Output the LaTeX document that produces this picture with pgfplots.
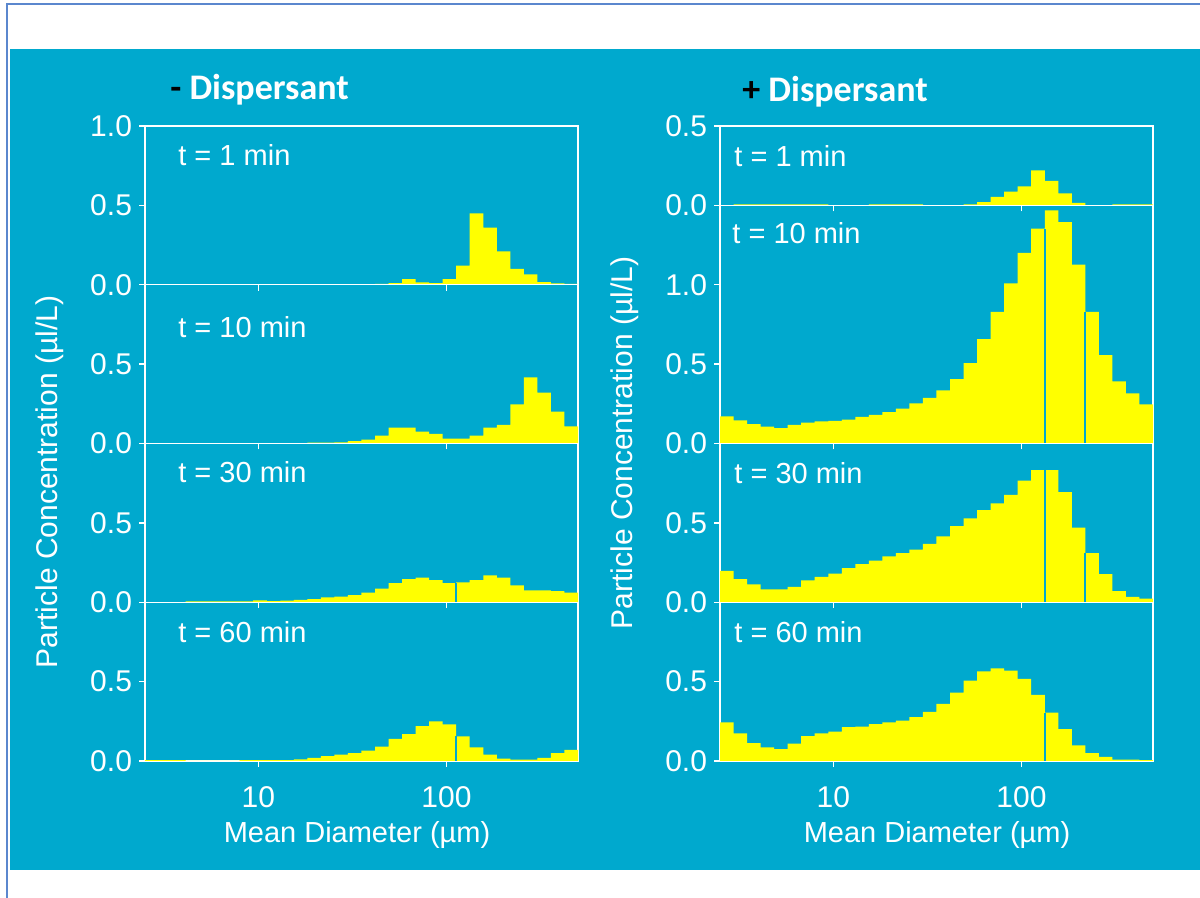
\documentclass[border=0pt]{standalone}
\usepackage{pgfplots}
\pgfplotsset{compat=1.18}
\usepackage{pgfplotstable}
\usepackage{fontspec}
\setmainfont{Liberation Sans}
\newfontfamily\titlefont{Carlito}
\definecolor{bg}{RGB}{0,169,206}
\definecolor{baryellow}{RGB}{255,255,0}
\definecolor{frameblue}{RGB}{91,135,206}

\pgfplotstableread{
x L1 L2 L3 L4 R1 R2 R3 R4
2.5 0 0 0 0.006 0 0.171 0.198 0.243
2.950 0 0 0 0.006 0.006 0.145 0.145 0.174
3.481 0 0 0 0.006 0.006 0.122 0.113 0.113
4.108 0 0 0.006 0 0.006 0.107 0.081 0.085
4.848 0 0 0.006 0 0.006 0.096 0.081 0.074
5.721 0 0 0.006 0 0.006 0.118 0.096 0.109
6.751 0 0 0.006 0 0.006 0.132 0.138 0.157
7.967 0 0 0.006 0.006 0.006 0.139 0.160 0.174
9.401 0 0 0.012 0.006 0 0.143 0.181 0.185
11.094 0 0 0.007 0.006 0 0.150 0.215 0.213
13.092 0 0 0.010 0.006 0 0.167 0.240 0.217
15.449 0 0 0.015 0.010 0.006 0.180 0.262 0.233
18.231 0 0.006 0.020 0.020 0.006 0.197 0.289 0.243
21.514 0 0.006 0.030 0.030 0.006 0.220 0.309 0.254
25.388 0 0.007 0.035 0.040 0.006 0.252 0.332 0.276
29.960 0 0.015 0.045 0.050 0 0.288 0.368 0.309
35.355 0 0.025 0.060 0.065 0 0.335 0.415 0.359
41.721 0.006 0.050 0.085 0.090 0 0.406 0.480 0.430
49.234 0.010 0.100 0.120 0.140 0.006 0.506 0.528 0.507
58.099 0.035 0.100 0.145 0.170 0.020 0.658 0.580 0.565
68.561 0.015 0.075 0.155 0.220 0.053 0.829 0.623 0.583
80.907 0.010 0.060 0.140 0.250 0.086 1.008 0.677 0.570
95.475 0.035 0.030 0.120 0.230 0.120 1.200 0.766 0.517
112.67 0.120 0.030 0.125 0.155 0.220 1.353 0.832 0.417
132.95 0.450 0.050 0.140 0.085 0.155 1.468 0.832 0.304
156.89 0.360 0.100 0.170 0.040 0.075 1.395 0.694 0.200
185.14 0.210 0.117 0.155 0.015 0.015 1.126 0.470 0.098
218.48 0.100 0.246 0.106 0.008 0 0.829 0.309 0.050
257.82 0.066 0.416 0.074 0.008 0 0.556 0.177 0.026
304.24 0.017 0.320 0.074 0.020 0.006 0.391 0.070 0.009
359.02 0.008 0.200 0.070 0.050 0.006 0.316 0.034 0.009
423.67 0.006 0.108 0.060 0.070 0.006 0.246 0.023 0.006
500 0 0 0 0 0 0 0 0
}\data

\begin{document}
\begin{tikzpicture}
\useasboundingbox (0,0) rectangle (600pt,449pt);
\fill[white] (0,0) rectangle (600pt,449pt);
\fill[bg] (5pt,14pt) rectangle (600pt,424.5pt);
\draw[frameblue, line width=1pt] (3.5pt,0) -- (3.5pt,446.8pt) -- (600pt,446.8pt);

% ---------- left column ----------
\begin{axis}[xmode=log, xmin=2.5, xmax=500, ymin=0, ymax=1,
  scale only axis, width=216.5pt, height=79.375pt, at={(72.5pt,306.625pt)},
  axis line style={white, line width=0.7pt}, tick style={white, line width=0.7pt},
  tick align=outside, major tick length=3pt, xtick pos=bottom, ytick pos=left,
  xtick={10,100}, minor xtick={1000}, ytick={0,0.5,1}, xticklabels={},
  tick label style={font=\fontsize{15}{18}\selectfont, text=white},
  xticklabel style={yshift=-6pt},
  yticklabel style={/pgf/number format/fixed, /pgf/number format/fixed zerofill, /pgf/number format/precision=1},
  /pgf/number format/assume math mode=true]
\addplot[const plot, fill=baryellow, draw=none] table[x=x,y=L1]{\data} \closedcycle;
\end{axis}
\begin{axis}[xmode=log, xmin=2.5, xmax=500, ymin=0, ymax=1,
  scale only axis, width=216.5pt, height=79.375pt, at={(72.5pt,227.25pt)},
  axis line style={white, line width=0.7pt}, tick style={white, line width=0.7pt},
  tick align=outside, major tick length=3pt, xtick pos=bottom, ytick pos=left,
  xtick={10,100}, minor xtick={1000}, ytick={0,0.5}, xticklabels={},
  tick label style={font=\fontsize{15}{18}\selectfont, text=white},
  xticklabel style={yshift=-6pt},
  yticklabel style={/pgf/number format/fixed, /pgf/number format/fixed zerofill, /pgf/number format/precision=1},
  /pgf/number format/assume math mode=true]
\addplot[const plot, fill=baryellow, draw=none] table[x=x,y=L2]{\data} \closedcycle;
\end{axis}
\begin{axis}[xmode=log, xmin=2.5, xmax=500, ymin=0, ymax=1,
  scale only axis, width=216.5pt, height=79.375pt, at={(72.5pt,147.875pt)},
  axis line style={white, line width=0.7pt}, tick style={white, line width=0.7pt},
  tick align=outside, major tick length=3pt, xtick pos=bottom, ytick pos=left,
  xtick={10,100}, minor xtick={1000}, ytick={0,0.5}, xticklabels={},
  tick label style={font=\fontsize{15}{18}\selectfont, text=white},
  xticklabel style={yshift=-6pt},
  yticklabel style={/pgf/number format/fixed, /pgf/number format/fixed zerofill, /pgf/number format/precision=1},
  /pgf/number format/assume math mode=true]
\addplot[const plot, fill=baryellow, draw=none] table[x=x,y=L3]{\data} \closedcycle;
\addplot[draw=bg, line width=0.9pt] coordinates {(112.67,0) (112.67,0.12)};
\end{axis}
\begin{axis}[xmode=log, xmin=2.5, xmax=500, ymin=0, ymax=1,
  scale only axis, width=216.5pt, height=79.375pt, at={(72.5pt,68.5pt)},
  axis line style={white, line width=0.7pt}, tick style={white, line width=0.7pt},
  tick align=outside, major tick length=3pt, xtick pos=bottom, ytick pos=left,
  xtick={10,100}, minor xtick={1000}, ytick={0,0.5}, xticklabels={10,100},
  tick label style={font=\fontsize{15}{18}\selectfont, text=white},
  xticklabel style={yshift=-6pt},
  yticklabel style={/pgf/number format/fixed, /pgf/number format/fixed zerofill, /pgf/number format/precision=1},
  /pgf/number format/assume math mode=true]
\addplot[const plot, fill=baryellow, draw=none] table[x=x,y=L4]{\data} \closedcycle;
\addplot[draw=bg, line width=0.9pt] coordinates {(112.67,0) (112.67,0.155)};
\end{axis}

% ---------- right column ----------
\begin{axis}[xmode=log, xmin=2.5, xmax=500, ymin=0, ymax=0.5,
  scale only axis, width=216.5pt, height=39.6875pt, at={(360pt,346.3125pt)},
  axis line style={white, line width=0.7pt}, tick style={white, line width=0.7pt},
  tick align=outside, major tick length=3pt, xtick pos=bottom, ytick pos=left,
  xtick={10,100}, minor xtick={1000}, ytick={0,0.5}, xticklabels={},
  tick label style={font=\fontsize{15}{18}\selectfont, text=white},
  xticklabel style={yshift=-6pt},
  yticklabel style={/pgf/number format/fixed, /pgf/number format/fixed zerofill, /pgf/number format/precision=1},
  /pgf/number format/assume math mode=true]
\addplot[const plot, fill=baryellow, draw=none] table[x=x,y=R1]{\data} \closedcycle;
\end{axis}
\begin{axis}[xmode=log, xmin=2.5, xmax=500, ymin=0, ymax=1.5,
  scale only axis, width=216.5pt, height=119.0625pt, at={(360pt,227.25pt)},
  axis line style={white, line width=0.7pt}, tick style={white, line width=0.7pt},
  tick align=outside, major tick length=3pt, xtick pos=bottom, ytick pos=left,
  xtick={10,100}, minor xtick={1000}, ytick={0,0.5,1}, xticklabels={},
  tick label style={font=\fontsize{15}{18}\selectfont, text=white},
  xticklabel style={yshift=-6pt},
  yticklabel style={/pgf/number format/fixed, /pgf/number format/fixed zerofill, /pgf/number format/precision=1},
  /pgf/number format/assume math mode=true]
\addplot[const plot, fill=baryellow, draw=none] table[x=x,y=R2]{\data} \closedcycle;
\addplot[draw=bg, line width=0.9pt] coordinates {(132.95,0) (132.95,1.353)};
\addplot[draw=bg, line width=0.9pt] coordinates {(218.48,0) (218.48,0.829)};
\end{axis}
\begin{axis}[xmode=log, xmin=2.5, xmax=500, ymin=0, ymax=1,
  scale only axis, width=216.5pt, height=79.375pt, at={(360pt,147.875pt)},
  axis line style={white, line width=0.7pt}, tick style={white, line width=0.7pt},
  tick align=outside, major tick length=3pt, xtick pos=bottom, ytick pos=left,
  xtick={10,100}, minor xtick={1000}, ytick={0,0.5}, xticklabels={},
  tick label style={font=\fontsize{15}{18}\selectfont, text=white},
  xticklabel style={yshift=-6pt},
  yticklabel style={/pgf/number format/fixed, /pgf/number format/fixed zerofill, /pgf/number format/precision=1},
  /pgf/number format/assume math mode=true]
\addplot[const plot, fill=baryellow, draw=none] table[x=x,y=R3]{\data} \closedcycle;
\addplot[draw=bg, line width=0.9pt] coordinates {(132.95,0) (132.95,0.832)};
\addplot[draw=bg, line width=0.9pt] coordinates {(218.48,0) (218.48,0.309)};
\end{axis}
\begin{axis}[xmode=log, xmin=2.5, xmax=500, ymin=0, ymax=1,
  scale only axis, width=216.5pt, height=79.375pt, at={(360pt,68.5pt)},
  axis line style={white, line width=0.7pt}, tick style={white, line width=0.7pt},
  tick align=outside, major tick length=3pt, xtick pos=bottom, ytick pos=left,
  xtick={10,100}, minor xtick={1000}, ytick={0,0.5}, xticklabels={10,100},
  tick label style={font=\fontsize{15}{18}\selectfont, text=white},
  xticklabel style={yshift=-6pt},
  yticklabel style={/pgf/number format/fixed, /pgf/number format/fixed zerofill, /pgf/number format/precision=1},
  /pgf/number format/assume math mode=true]
\addplot[const plot, fill=baryellow, draw=none] table[x=x,y=R4]{\data} \closedcycle;
\addplot[draw=bg, line width=0.9pt] coordinates {(132.95,0) (132.95,0.304)};
\end{axis}

% ---------- texts ----------
\begin{scope}[every node/.style={text=white, font=\fontsize{14.5}{17}\selectfont, inner sep=0pt}]
\node[anchor=west] at (89pt,371.5pt) {t = 1 min};
\node[anchor=west] at (89pt,285.5pt) {t = 10 min};
\node[anchor=west] at (89pt,213pt) {t = 30 min};
\node[anchor=west] at (89pt,133pt) {t = 60 min};
\node[anchor=west] at (367pt,371pt) {t = 1 min};
\node[anchor=west] at (366pt,332.5pt) {t = 10 min};
\node[anchor=west] at (367pt,212.5pt) {t = 30 min};
\node[anchor=west] at (367pt,133pt) {t = 60 min};
\node at (178.5pt,31.5pt) {Mean Diameter (µm)};
\node at (468.5pt,31.5pt) {Mean Diameter (µm)};
\node[rotate=90, font=\fontsize{15}{18}\selectfont] at (25pt,208pt) {Particle Concentration (µl/L)};
\node[rotate=90, font=\fontsize{15}{18}\selectfont] at (312.5pt,227.5pt) {Particle Concentration (µl/L)};
\node[anchor=west, font=\titlefont\bfseries\fontsize{18}{21}\selectfont] at (85pt,404pt) {\textcolor{black}{-} Dispersant};
\node[anchor=west, font=\titlefont\bfseries\fontsize{18}{21}\selectfont] at (371pt,403pt) {\textcolor{black}{+} Dispersant};
\end{scope}
\end{tikzpicture}
\end{document}
